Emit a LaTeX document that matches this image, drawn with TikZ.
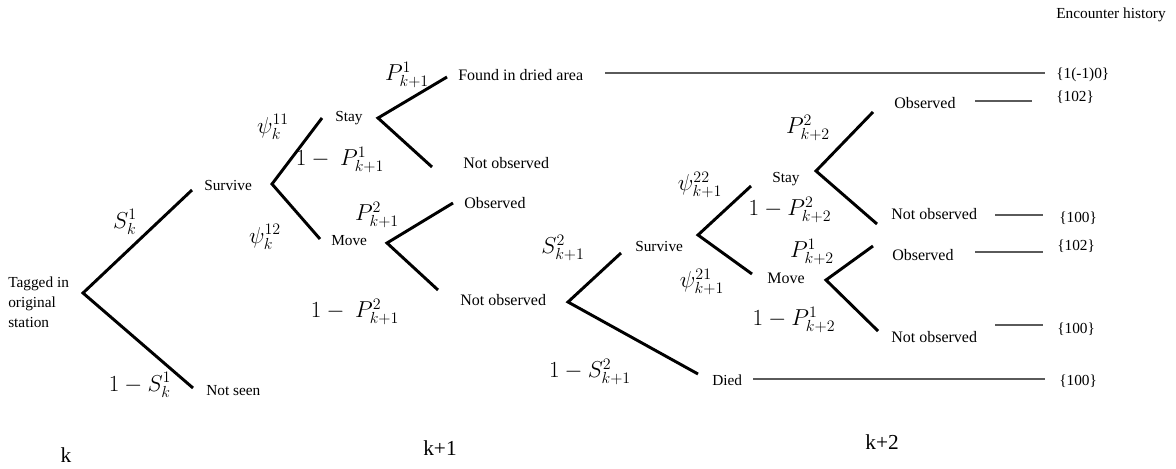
\documentclass[tikz,border=0pt]{standalone}
\usepackage{fontspec}
\setmainfont{Liberation Serif}
\usepackage{amsmath}
\usepackage{tikz}
\usetikzlibrary{positioning}
\definecolor{histGray}{RGB}{90,90,90}
\tikzset{
  state/.style={anchor=west,inner sep=0pt,font=\fontsize{11.5}{15}\selectfont},
  outcome/.style={anchor=west,inner sep=0pt,font=\fontsize{12}{15}\selectfont},
  code/.style={anchor=west,inner sep=0pt,font=\fontsize{11.5}{14}\selectfont},
  prob/.style={inner sep=0pt,font=\fontsize{17}{19}\selectfont},
  stage/.style={inner sep=0pt,font=\fontsize{16}{18}\selectfont},
  branch/.style={draw=black,line width=2.2pt},
  hist/.style={draw=histGray,line width=0.9pt}
}

\begin{document}
\begin{tikzpicture}[x=0.75pt,y=-0.75pt]
  \useasboundingbox (0,0) rectangle (1176,468);
  % stage k
  \node[state, align=left] (root) at (8,302) {Tagged in\\original\\station};
  \coordinate (v0) at (83,293);
  \coordinate (a1) at (192,190);
  \coordinate (a2) at (193,388);
  \node[state] (surv1) at (204,185) {Survive};
  \node[state] (notseen) at (206,391) {Not seen};
  \draw[branch] (a1) -- (v0) -- (a2);
  \node[prob] (pS1) at (125,222) {$S_k^1$};
  \node[prob] (pS1n) at (140,385) {$1-S_k^1$};

  % survive -> stay / move
  \coordinate (v1) at (272,184);
  \coordinate (b1) at (322,118);
  \coordinate (b2) at (320,239);
  \draw[branch] (b1) -- (v1) -- (b2);
  \node[state] (stay1) at (335,118) {Stay};
  \node[state] (move1) at (331,241) {Move};
  \node[prob] (psi11) at (273,127) {$\psi_k^{11}$};
  \node[prob] (psi12) at (265,237) {$\psi_k^{12}$};

  % stage k+1
  \coordinate (v2) at (378,118);
  \coordinate (d1) at (447,77);
  \coordinate (d2) at (432,167);
  \draw[branch] (d1) -- (v2) -- (d2);
  \node[outcome] (found) at (458,75) {Found in dried area};
  \node[outcome] (nobs1) at (463,163) {Not observed};
  \node[prob] (pP1) at (407,75) {$P_{k+1}^1$};
  \node[prob] (pP1n) at (340,160) {$1-\ P_{k+1}^1$};

  \coordinate (v3) at (387,243);
  \coordinate (e1) at (453,203);
  \coordinate (e2) at (438,290);
  \draw[branch] (e1) -- (v3) -- (e2);
  \node[outcome] (obs1) at (464,203) {Observed};
  \node[outcome] (nobs2) at (460,300) {Not observed};
  \node[prob] (pP2) at (377,215) {$P_{k+1}^2$};
  \node[prob] (pP2n) at (355,312) {$1-\ P_{k+1}^2$};

  % not observed -> survive / died
  \coordinate (v4) at (568,302);
  \coordinate (f1) at (621,253);
  \coordinate (f2) at (698,374);
  \draw[branch] (f1) -- (v4) -- (f2);
  \node[state] (surv2) at (635,246) {Survive};
  \node[state] (died) at (712,380) {Died};
  \node[prob] (pS2) at (563,248) {$S_{k+1}^2$};
  \node[prob] (pS2n) at (590,372) {$1-S_{k+1}^2$};

  \coordinate (v5) at (698,235);
  \coordinate (g1) at (751,186);
  \coordinate (g2) at (752,274);
  \draw[branch] (g1) -- (v5) -- (g2);
  \node[state] (stay2) at (772,179) {Stay};
  \node[outcome] (move2) at (767,278) {Move};
  \node[prob] (psi22) at (700,185) {$\psi_{k+1}^{22}$};
  \node[prob] (psi21) at (702,282) {$\psi_{k+1}^{21}$};

  % stage k+2
  \coordinate (v6) at (816,171);
  \coordinate (h1) at (873,112);
  \coordinate (h2) at (877,224);
  \draw[branch] (h1) -- (v6) -- (h2);
  \node[outcome] (obs2) at (894,103) {Observed};
  \node[outcome] (nobs3) at (891,214) {Not observed};
  \node[prob] (pQ2) at (808,128) {$P_{k+2}^2$};
  \node[prob] (pQ2n) at (790,210) {$1-P_{k+2}^2$};

  \coordinate (v7) at (826,280);
  \coordinate (i1) at (873,246);
  \coordinate (i2) at (878,331);
  \draw[branch] (i1) -- (v7) -- (i2);
  \node[outcome] (obs3) at (892,255) {Observed};
  \node[outcome] (nobs4) at (891,337) {Not observed};
  \node[prob] (pQ1) at (812,252) {$P_{k+2}^1$};
  \node[prob] (pQ1n) at (794,320) {$1-P_{k+2}^1$};

  % encounter history
  \node[code] (head) at (1056,15) {Encounter history};
  \node[code] (c1) at (1056,75) {\{1(-1)0\}};
  \node[code] (c2) at (1056,97) {\{102\}};
  \node[code] (c3) at (1059,218) {\{100\}};
  \node[code] (c4) at (1057,246) {\{102\}};
  \node[code] (c5) at (1057,329) {\{100\}};
  \node[code] (c6) at (1059,381) {\{100\}};
  \coordinate (l1) at (605,73);  \coordinate (m1) at (1045,73);
  \coordinate (l2) at (975,101); \coordinate (m2) at (1032,101);
  \coordinate (l3) at (995,215); \coordinate (m3) at (1043,215);
  \coordinate (l4) at (975,252); \coordinate (m4) at (1043,252);
  \coordinate (l5) at (995,325); \coordinate (m5) at (1043,325);
  \coordinate (l6) at (753,379); \coordinate (m6) at (1045,379);
  \draw[hist] (l1) -- (m1);
  \draw[hist] (l2) -- (m2);
  \draw[hist] (l3) -- (m3);
  \draw[hist] (l4) -- (m4);
  \draw[hist] (l5) -- (m5);
  \draw[hist] (l6) -- (m6);

  % time steps
  \node[stage] (tk) at (66,455) {k};
  \node[stage] (tk1) at (440,448) {k+1};
  \node[stage] (tk2) at (882,442) {k+2};
\end{tikzpicture}
\end{document}
